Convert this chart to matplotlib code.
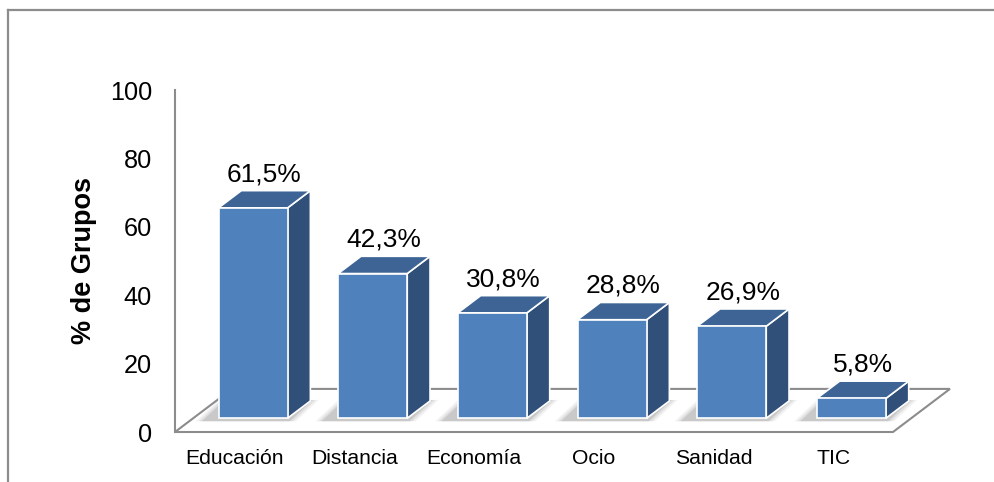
import matplotlib
matplotlib.use("Agg")
import matplotlib.pyplot as plt
from matplotlib.patches import Polygon
from matplotlib.lines import Line2D

plt.rcParams['font.family'] = ['Liberation Sans', 'DejaVu Sans']

categories = ['Educación', 'Distancia', 'Economía', 'Ocio', 'Sanidad', 'TIC']
values = [61.5, 42.3, 30.8, 28.8, 26.9, 5.8]
labels = ['61,5%', '42,3%', '30,8%', '28,8%', '26,9%', '5,8%']
yticks = [0, 20, 40, 60, 80, 100]

# fake 3d geometry, in data units (x = category, y = value)
floor_dx, floor_dy = 0.476, 12.6     # depth of the floor
front_f = 0.32                        # bar front face position in the floor depth
depth_f = 0.40                        # bar depth as a fraction of the floor depth
bar_w = 0.577

c_front = '#4f81bd'
c_top = '#3d6494'
c_side = '#30507a'
c_grey = '#8c8c8c'

fig = plt.figure(figsize=(9.95, 4.82), dpi=100)
ax = fig.add_axes([175/995, 50/482, 718/995, 342/482])
ax.set_xlim(-0.5, len(categories) - 0.5)
ax.set_ylim(0, 100)

# floor
n = len(categories)
floor = Polygon([(-0.5, 0), (n - 0.5, 0), (n - 0.5 + floor_dx, floor_dy),
                 (-0.5 + floor_dx, floor_dy)], closed=True, facecolor='white',
                edgecolor=c_grey, lw=1.5, clip_on=False, zorder=1)
ax.add_patch(floor)

ox, oy = front_f * floor_dx, front_f * floor_dy
ddx, ddy = depth_f * floor_dx, depth_f * floor_dy

for i, (v, lab) in enumerate(zip(values, labels)):
    x0 = i - bar_w / 2 + ox
    x1 = i + bar_w / 2 + ox
    y0 = oy
    y1 = oy + v
    # soft shadow on the floor
    for k, a in enumerate([0.05, 0.07, 0.10]):
        g = 0.07 - k * 0.025
        sh = Polygon([(x0 - 0.12 - g, y0 - 0.9), (x1 + g, y0 - 0.9),
                      (x1 + ddx + g, y0 + ddy + 0.3), (x0 + ddx - 0.12 - g, y0 + ddy + 0.3)],
                     closed=True, facecolor='black', edgecolor='none', alpha=a,
                     clip_on=False, zorder=2)
        ax.add_patch(sh)
    side = Polygon([(x1, y0), (x1 + ddx, y0 + ddy), (x1 + ddx, y1 + ddy), (x1, y1)],
                   closed=True, facecolor=c_side, edgecolor='white', lw=1.2,
                   clip_on=False, zorder=3)
    top = Polygon([(x0, y1), (x1, y1), (x1 + ddx, y1 + ddy), (x0 + ddx, y1 + ddy)],
                  closed=True, facecolor=c_top, edgecolor='white', lw=1.2,
                  clip_on=False, zorder=3)
    front = Polygon([(x0, y0), (x1, y0), (x1, y1), (x0, y1)], closed=True,
                    facecolor=c_front, edgecolor='white', lw=1.2, clip_on=False, zorder=4)
    ax.add_patch(side)
    ax.add_patch(top)
    ax.add_patch(front)
    ax.text(i + ox + ddx / 2, y1 + ddy + 2.8, lab, ha='center', va='baseline',
            fontsize=19, color='black', zorder=5)

for s in ['top', 'right', 'bottom']:
    ax.spines[s].set_visible(False)
ax.spines['left'].set_color(c_grey)
ax.spines['left'].set_linewidth(1.5)
ax.spines['left'].set_zorder(0)

ax.set_yticks(yticks)
ax.set_yticklabels([str(t) for t in yticks], fontsize=18.2)
ax.set_xticks(range(n))
ax.set_xticklabels(categories, fontsize=15.2)
ax.tick_params(axis='y', length=0, pad=16.5)
ax.tick_params(axis='x', length=0, pad=12)
ax.patch.set_visible(False)

fig.text(84/995, 1 - 260/482, '% de Grupos', rotation=90, ha='center', va='center',
         fontsize=19.5, fontweight='bold')

# outer chart border (cut off on the right and bottom)
fig.add_artist(Line2D([8/995, 8/995], [0, 1 - 10/482], transform=fig.transFigure,
                      color=c_grey, lw=1.6))
fig.add_artist(Line2D([8/995, 1], [1 - 10/482, 1 - 10/482], transform=fig.transFigure,
                      color=c_grey, lw=1.6))

fig.savefig('out.png', dpi=100)
